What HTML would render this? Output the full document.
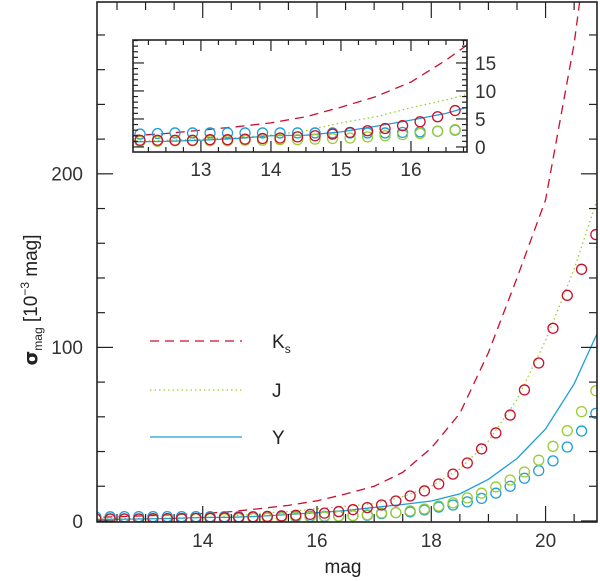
<!DOCTYPE html>
<html><head><meta charset="utf-8"><style>
html,body{margin:0;padding:0;background:#fff;}
svg{display:block;font-family:"Liberation Sans","DejaVu Sans",sans-serif;}
</style></head><body>
<svg id="chart" width="600" height="581" viewBox="0 0 600 581" xmlns="http://www.w3.org/2000/svg"></svg>
<script>
const lineMags = [12,12.5,13,13.5,14,14.5,15,15.5,16,16.5,17,17.5,18,18.5,19,19.5,20,20.5,21];
const lineK = [2,2.4,3,3.6,4.3,5.4,7.1,9,11.6,15.5,20,28,42,62,97,140,185,275,400];
const lineJ = [1,1.2,1.4,1.7,2.1,2.9,4.3,5.4,7,8.4,10,14,20,30,46,70,104,145,195];
const lineY = [0.9,1,1.2,1.5,2,2.1,2.7,3.7,4.8,6,7.8,9.5,11.5,15.6,24,36,53,79,115];
const ptMags = Array.from({length:36},(_,k)=>+(12.13+0.25*k).toFixed(2));
const ptK = [1.2,1.2,1.2,1.2,1.3,1.3,1.4,1.5,1.6,1.8,2.0,2.3,2.6,2.9,3.3,3.8,4.5,5.4,6.5,7.7,9.2,11.5,14.4,17.3,21.3,27,33.4,41.5,50.7,61,75.5,91,111,130,145,165];
const ptJ = [1.0,1.0,1.1,1.1,1.1,1.1,1.2,1.2,1.3,1.3,1.4,1.5,1.6,1.8,2.0,2.2,2.4,2.8,3.1,3.6,4.6,4.8,5.8,6.9,8.6,10.4,13.3,16,19.6,23.6,28.2,35,43,52,63,75];
const ptY = [2.3,2.4,2.5,2.5,2.5,2.5,2.5,2.5,2.5,2.5,2.5,2.5,2.5,2.5,2.5,2.6,2.7,2.8,3.0,3.3,4.2,4.8,5.2,6.3,8,9.2,11,13,16,20,24.6,29,34.6,42.6,51.8,62];
const xTickLabels = [14,16,18,20];
const yTickLabels = [0,100,200];
const insetXTickLabels = [13,14,15,16];
const insetYTickLabels = [0,5,10,15];

const NS="http://www.w3.org/2000/svg";
const svg=document.getElementById('chart');
const RED="#c8102e", GRN="#9acd32", BLU="#1e9fd6";
function mk(tag,attrs,parent){const e=document.createElementNS(NS,tag);for(const k in attrs)e.setAttribute(k,attrs[k]);(parent||svg).appendChild(e);return e;}

function panel(cfg){
  const g=mk('g',{});
  
  
  const sx=v=>cfg.x0+(v-cfg.xmin)/(cfg.xmax-cfg.xmin)*(cfg.x1-cfg.x0);
  const sy=v=>cfg.y1-(v-cfg.ymin)/(cfg.ymax-cfg.ymin)*(cfg.y1-cfg.y0);
  const cid='clip-'+cfg.name;
  const cp=mk('clipPath',{id:cid},g);
  mk('rect',{x:cfg.x0,y:cfg.y0,width:cfg.x1-cfg.x0,height:cfg.y1-cfg.y0},cp);
  const data=mk('g',{'clip-path':'url(#'+cid+')'},g);
  const lines=[[lineK,RED,'9,6','line-ks'],[lineJ,GRN,'1.5,3','line-j'],[lineY,BLU,'','line-y']];
  lines.forEach(([arr,c,d,n])=>{
    const p=mk('polyline',{points:lineMags.map((m,i)=>sx(m)+','+sy(arr[i])).join(' '),fill:'none',stroke:c,'stroke-width':1.3,'stroke-dasharray':d},data);
    
    
  });
  const pts=[[ptY,BLU,'points-y'],[ptJ,GRN,'points-j'],[ptK,RED,'points-ks']];
  pts.forEach(([arr,c,n])=>{
    const pg=mk('g',{},data);
    
    
    ptMags.forEach((m,i)=>{mk('circle',{cx:sx(m),cy:sy(arr[i]),r:cfg.r,fill:'none',stroke:c,'stroke-width':1.3},pg);});
  });
  mk('rect',{x:cfg.x0,y:cfg.y0,width:cfg.x1-cfg.x0,height:cfg.y1-cfg.y0,fill:'none',stroke:'#222','stroke-width':1.6},g);
  for(let v=Math.ceil(cfg.xmin/cfg.xminor)*cfg.xminor;v<=cfg.xmax+1e-9;v+=cfg.xminor){
    const major=Math.abs(v/cfg.xmajor-Math.round(v/cfg.xmajor))<1e-6;
    const L=major?cfg.tM:cfg.tm;const x=sx(v);
    mk('line',{x1:x,x2:x,y1:cfg.y1,y2:cfg.y1-L,stroke:'#222','stroke-width':1.2},g);
    mk('line',{x1:x,x2:x,y1:cfg.y0,y2:cfg.y0+L,stroke:'#222','stroke-width':1.2},g);
  }
  for(let v=Math.ceil(cfg.ymin/cfg.yminor)*cfg.yminor;v<=cfg.ymax+1e-9;v+=cfg.yminor){
    const major=Math.abs(v/cfg.ymajor-Math.round(v/cfg.ymajor))<1e-6;
    const L=major?cfg.tM:cfg.tm;const y=sy(v);
    mk('line',{x1:cfg.x0,x2:cfg.x0+L,y1:y,y2:y,stroke:'#222','stroke-width':1.2},g);
    mk('line',{x1:cfg.x1,x2:cfg.x1-L,y1:y,y2:y,stroke:'#222','stroke-width':1.2},g);
  }
  cfg.xl.forEach(v=>{
    const t=mk('text',{x:sx(v),y:cfg.y1+cfg.xlOff,'text-anchor':'middle','font-size':cfg.fs,fill:'#333'},g);
    t.textContent=v;
    
    
  });
  cfg.yl.forEach(v=>{
    const t=mk('text',{x:cfg.ylX,y:sy(v)+cfg.fs*0.36,'text-anchor':cfg.ylAnchor,'font-size':cfg.fs,fill:'#333'},g);
    t.textContent=v;
    
    
  });
}

panel({name:'main-plot',x0:97,x1:597,y0:2,y1:522,xmin:12.15,xmax:20.9,ymin:-0.6,ymax:299,r:5,
  xminor:0.5,xmajor:2,yminor:20,ymajor:100,tm:8,tM:16,xl:xTickLabels,yl:yTickLabels,xlOff:25,fs:19,ylX:83,ylAnchor:'end'});

const bg=mk('rect',{x:133,y:40,width:334,height:112,fill:'#fff'});


panel({name:'inset-plot',x0:133,x1:467,y0:40,y1:152,xmin:12.03,xmax:16.8,ymin:-0.9,ymax:19.1,r:5,
  xminor:0.25,xmajor:1,yminor:1,ymajor:5,tm:5,tM:11,xl:insetXTickLabels,yl:insetYTickLabels,xlOff:24,fs:19,ylX:475,ylAnchor:'start'});

const leg=mk('g',{});


[['K','s',RED,'9,6',341],['J','',GRN,'1.5,3',390],['Y','',BLU,'',437]].forEach(([lab,sub,c,d,y])=>{
  const e=mk('g',{},leg);
  
  
  mk('line',{x1:150,x2:242,y1:y,y2:y,stroke:c,'stroke-width':1.3,'stroke-dasharray':d},e);
  const t=mk('text',{x:272,y:y+7,'font-size':19,fill:'#222'},e);
  t.textContent=lab;
  if(sub){const s=mk('tspan',{'font-size':12,dy:5},t);s.textContent=sub;}
});

const xt=mk('text',{x:343,y:573,'text-anchor':'middle','font-size':19,fill:'#222'});
xt.textContent='mag';



const yt=mk('text',{transform:'translate(37,300) rotate(-90)','text-anchor':'middle','font-size':19,fill:'#222'});


const a=mk('tspan',{'font-weight':'bold','font-family':'"DejaVu Sans",sans-serif'},yt);a.textContent='σ';
const b=mk('tspan',{'font-size':12,dy:5},yt);b.textContent='mag';
const c=mk('tspan',{dy:-5},yt);c.textContent='  [10';
const d=mk('tspan',{'font-size':12,dy:-8},yt);d.textContent='−3';
const e=mk('tspan',{dy:8},yt);e.textContent=' mag]';
</script>
</body></html>
